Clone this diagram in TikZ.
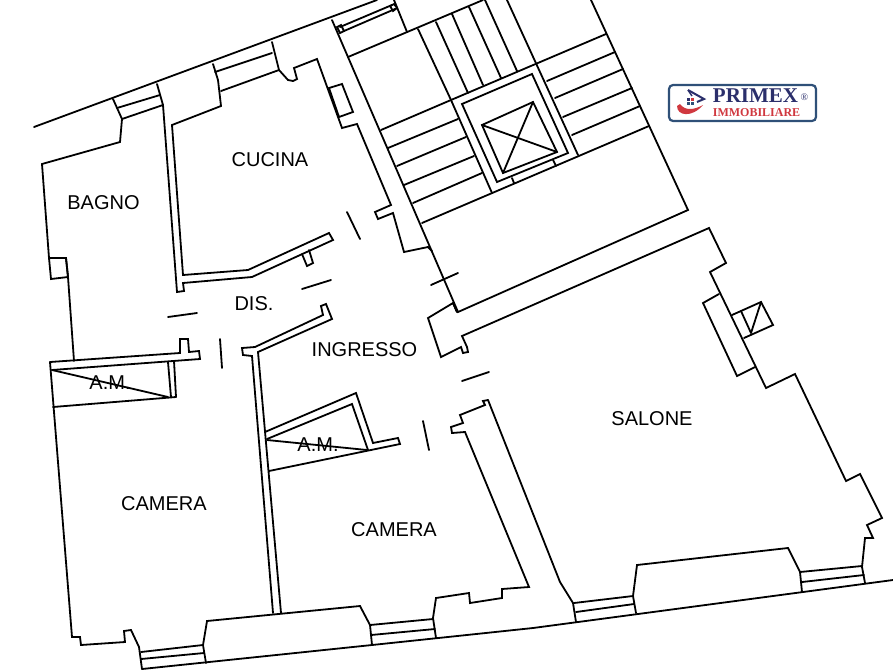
\documentclass[tikz,border=0pt]{standalone}
\usepackage{fontspec}
\setmainfont{Liberation Sans}
\newfontfamily\logofont{Liberation Serif}
\definecolor{logoblue}{HTML}{2F5078}
\definecolor{logonavy}{HTML}{2B2F6B}
\definecolor{logored}{HTML}{D0383F}
\tikzset{
  wall/.style={line width=1.8pt,line join=miter,line cap=round,black},
  roomlabel/.style={font=\fontsize{20}{20}\selectfont,inner sep=0pt,text=black},
}
\begin{document}
\begin{tikzpicture}[x=1pt,y=-1pt]
\useasboundingbox (0,0) rectangle (893,670);
\fill[white] (0,0) rectangle (893,670);
\begin{scope}[wall]
% outer top wall
\draw (34,127) -- (377,0);
% window bagno
\draw (113,99) -- (122,119);
\draw (117,108) -- (160,95);
\draw (122,119) -- (163,105);
\draw (157,84) -- (163,105);
% bagno outline
\draw (122,119) -- (120,142) -- (42,164) -- (49,258) -- (51,279) -- (68,277) -- (66,258) -- (49,258);
\draw (66,258) -- (68,277) -- (74,361);
% wall bagno / cucina
\draw (163,105) -- (177,292) -- (184,291) -- (183,283) -- (252,277) -- (333,240) -- (329,233) -- (248,270) -- (183,275) -- (172,125) -- (221,106) -- (218,80) -- (213,64);
\draw (302,254) -- (307,266) -- (313,263) -- (309,250);
% window cucina
\draw (215,72) -- (272,53);
\draw (221,91) -- (279,70);
\draw (272,42) -- (279,70) -- (288,80) -- (293,81) -- (297,79) -- (294,68) -- (317,59) -- (342,128) -- (357,124) -- (391,205) -- (375,212) -- (378,219) -- (393,213) -- (404,252) -- (428,247) -- (432,251);
\draw (329,88) -- (342,84) -- (353,112) -- (339,117) -- cycle;
% doors
\draw (347,212) -- (360,239);
\draw (302,289) -- (331,280);
\draw (168,317) -- (197,313);
\draw (431,285) -- (458,273);
\draw (220,339) -- (222,368);
\draw (462,381) -- (489,372);
\draw (423,421) -- (429,450);
% dis wall and camera wall
\draw (281,613) -- (258,352) -- (332,319) -- (326,304) -- (321,306) -- (323,315) -- (255,347) -- (242,348) -- (243,355) -- (252,356) -- (273,613);
% stair main wall
\draw (332,20) -- (458,312) -- (688,210) -- (591,0);
\draw (453,303) -- (457,312);
% top window
\draw (340,27) -- (392,5);
\draw (344,31) -- (395,9);
\draw (337,27) -- (341,25) -- (344,31) -- (340,33) -- cycle;
\draw (390,6) -- (394,4) -- (397,8) -- (393,11) -- cycle;
\draw (394,0) -- (407,32);
\draw (348,57) -- (483,0);
% stairs
\draw (418,29) -- (451,100);
\draw (436,22) -- (468,93);
\draw (452,14) -- (483,85);
\draw (469,7) -- (501,78);
\draw (485,0) -- (517,71);
\draw (507,0) -- (578,155);
\draw (451,100) -- (606,34);
\draw (547,81) -- (615,52);
\draw (555,98) -- (623,69);
\draw (563,117) -- (632,88);
\draw (572,135) -- (640,106);
\draw (422,223) -- (649,126);
\draw (381,130) -- (451,100);
\draw (388,148) -- (458,119);
\draw (397,166) -- (466,137);
\draw (404,185) -- (474,156);
\draw (413,203) -- (482,173);
\draw (451,100) -- (492,193);
% elevator
\draw (462,104) -- (532,74) -- (568,153) -- (497,182) -- cycle;
\draw (482,125) -- (533,102) -- (557,152) -- (503,173) -- cycle;
\draw (482,125) -- (557,152);
\draw (533,102) -- (503,173);
\draw (512,178) -- (514,183);
\draw (553,160) -- (556,166);
% salone right
\draw (457,312) -- (453,303) -- (428,318) -- (441,357) -- (461,347) -- (463,353) -- (468,352) -- (467,347) -- (462,336) -- (709,228) -- (726,263) -- (710,272) -- (766,388) -- (795,374) -- (846,481) -- (860,474) -- (882,518) -- (867,525) -- (873,538) -- (865,538) -- (862,567) -- (865,583);
\draw (719,294) -- (703,303) -- (737,376) -- (755,367);
\draw (732,315) -- (761,302) -- (773,325) -- (744,338);
\draw (741,311) -- (751,333);
\draw (761,302) -- (751,333);
% salone left
\draw (488,400) -- (483,401) -- (485,405) -- (460,415) -- (463,423) -- (451,427) -- (452,433) -- (465,432) -- (529,587) -- (502,589) -- (502,598) -- (470,603) -- (469,593) -- (436,598) -- (433,618) -- (436,638);
\draw (488,400) -- (560,582) -- (573,603) -- (576,622);
% bottom windows
\draw (574,603) -- (633,596);
\draw (576,612) -- (634,604);
\draw (633,596) -- (637,565) -- (788,548) -- (800,572) -- (802,592);
\draw (633,596) -- (636,613);
\draw (800,572) -- (862,566);
\draw (802,582) -- (864,575);
\draw (142,669) -- (372,645) -- (533,628) -- (893,580);
% camera left
\draw (50,362) -- (180,353) -- (180,339) -- (188,339) -- (189,352) -- (199,351) -- (200,359) -- (52,370);
\draw (50,362) -- (72,637) -- (80,637) -- (81,645) -- (125,642) -- (124,631) -- (131,630) -- (139,647) -- (142,669);
\draw (141,652) -- (203,645);
\draw (141,659) -- (204,653);
\draw (203,645) -- (207,621) -- (360,606) -- (370,625) -- (372,645);
\draw (203,645) -- (206,663);
\draw (370,625) -- (433,619);
\draw (371,635) -- (435,629);
% armadio 1
\draw (168,362) -- (171,397);
\draw (174,361) -- (176,397);
\draw (53,407) -- (176,397);
\draw (52,370) -- (168,397);
% armadio 2
\draw (265,432) -- (356,393) -- (373,443) -- (398,438) -- (400,444) -- (269,471);
\draw (267,439) -- (352,404) -- (368,450);
\draw (267,440) -- (367,450);
\end{scope}
% labels
\node[roomlabel] (bagno) at (103.5,203) {BAGNO};
\node[roomlabel] (cucina) at (270,160) {CUCINA};
\node[roomlabel] (dis) at (254,304) {DIS.};
\node[roomlabel] (ingresso) at (364.5,350) {INGRESSO};
\node[roomlabel] (am1) at (110,383) {A.M.};
\node[roomlabel] (am2) at (318,445) {A.M.};
\node[roomlabel] (camera1) at (164,504) {CAMERA};
\node[roomlabel] (camera2) at (394,530) {CAMERA};
\node[roomlabel] (salone) at (652,419) {SALONE};
% logo
\draw[logoblue,line width=2.2pt,rounded corners=4pt,fill=white] (669,85) rectangle (816,121);
\fill[logored] (677,106) .. controls (677,116) and (692,118) .. (703,105) .. controls (694,110) and (685,111) .. (680,104) -- cycle;
\draw[logonavy,line width=2pt,line join=miter] (688,90) -- (704,99) -- (697,102);
\draw[logonavy,line width=1.5pt] (688,90) -- (692,96);
\fill[logonavy] (687,98) rectangle (690,101);
\fill[logored] (691,98) rectangle (694,101);
\fill[logoblue] (687,102) rectangle (690,105);
\fill[logoblue] (691,102) rectangle (694,105);
\node[inner sep=0pt,text=logonavy,font=\logofont\bfseries\fontsize{21}{21}\selectfont] (primex) at (755.5,96) {PRIMEX};
\node[inner sep=0pt,text=logonavy,font=\logofont\fontsize{10}{10}\selectfont] (reg) at (804.5,97) {®};
\node[inner sep=0pt,text=logored,font=\logofont\bfseries\fontsize{12}{12}\selectfont] (immob) at (756.5,113) {IMMOBILIARE};
\end{tikzpicture}
\end{document}
